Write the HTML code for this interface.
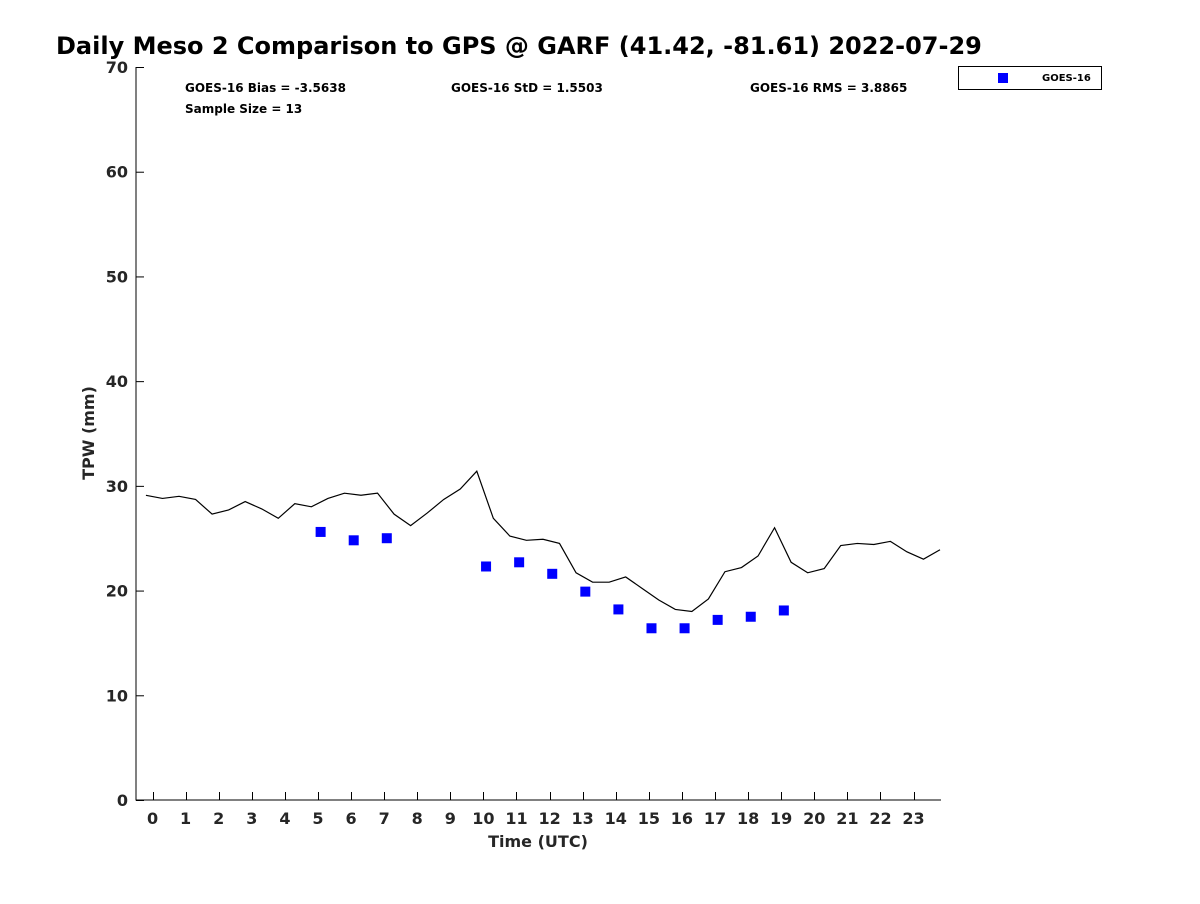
<!DOCTYPE html>
<html><head><meta charset="utf-8"><style>
body{margin:0;background:#fff;font-family:"DejaVu Sans","Liberation Sans",sans-serif}
svg text{font-family:"DejaVu Sans","Liberation Sans",sans-serif;fill:#262626;font-weight:bold}
</style></head><body>
<svg id="c" width="1200" height="900" xmlns="http://www.w3.org/2000/svg">
<text x="56" y="54" font-size="24" style="fill:#000">Daily Meso 2 Comparison to GPS @ GARF (41.42, -81.61) 2022-07-29</text>
<text x="185" y="92" font-size="12" style="fill:#000">GOES-16 Bias = -3.5638</text>
<text x="451" y="92" font-size="12" style="fill:#000">GOES-16 StD = 1.5503</text>
<text x="750" y="92" font-size="12" style="fill:#000">GOES-16 RMS = 3.8865</text>
<text x="185" y="113" font-size="12" style="fill:#000">Sample Size = 13</text>
<text x="538" y="847" font-size="16" text-anchor="middle">Time (UTC)</text>
<text transform="translate(94,433) rotate(-90)" font-size="16" text-anchor="middle">TPW (mm)</text>
<g>
<rect x="958.5" y="66.5" width="143" height="23" fill="#fff" stroke="#000"/>
<rect x="998" y="73" width="10" height="10" fill="#0000ff"/>
<text x="1042" y="81" font-size="10" style="fill:#000">GOES-16</text>
</g>
<g id="ax"></g>
</svg>
<script>
const xTicks=[0,1,2,3,4,5,6,7,8,9,10,11,12,13,14,15,16,17,18,19,20,21,22,23];
const yTicks=[0,10,20,30,40,50,60,70];
const gpsTimes=[-0.2,0.3,0.8,1.3,1.8,2.3,2.8,3.3,3.8,4.3,4.8,5.3,5.8,6.3,6.8,7.3,7.8,8.3,8.8,9.3,9.8,10.3,10.8,11.3,11.8,12.3,12.8,13.3,13.8,14.3,14.8,15.3,15.8,16.3,16.8,17.3,17.8,18.3,18.8,19.3,19.8,20.3,20.8,21.3,21.8,22.3,22.8,23.3,23.8];
const gpsTPW=[29.1,28.8,29.0,28.7,27.3,27.7,28.5,27.8,26.9,28.3,28.0,28.8,29.3,29.1,29.3,27.3,26.2,27.4,28.7,29.7,31.4,26.9,25.2,24.8,24.9,24.5,21.7,20.8,20.8,21.3,20.2,19.1,18.2,18.0,19.2,21.8,22.2,23.3,26.0,22.7,21.7,22.1,24.3,24.5,24.4,24.7,23.7,23.0,23.9];
const goesTimes=[5.08,6.08,7.08,10.08,11.08,12.08,13.08,14.08,15.08,16.08,17.08,18.08,19.08];
const goesTPW=[25.6,24.8,25.0,22.3,22.7,21.6,19.9,18.2,16.4,16.4,17.2,17.5,18.1];
const NS="http://www.w3.org/2000/svg";
const x0=136,x1=941,y0=800,y1=67,dMin=-0.5,dMax=23.83;
const X=v=>x0+(v-dMin)/(dMax-dMin)*(x1-x0);
const Y=v=>y0-(v/70)*(y0-y1);
const g=document.getElementById('ax');
function mk(t,a){const e=document.createElementNS(NS,t);for(const k in a)e.setAttribute(k,a[k]);g.appendChild(e);return e;}
const axl=mk('path',{d:`M${x0},${y1}H${x0}V${y0}H${x1}`,fill:'none',stroke:'#000'});


yTicks.forEach(v=>{
 const l=mk('line',{x1:x0,x2:x0+8,y1:Y(v)+.5,y2:Y(v)+.5,stroke:'#000'});
 
 
 const t=mk('text',{x:x0-8,y:Y(v)+6,'font-size':16,'text-anchor':'end'});t.textContent=v;
 
 
});
xTicks.forEach(v=>{
 const l=mk('line',{x1:Math.round(X(v))+.5,x2:Math.round(X(v))+.5,y1:y0,y2:y0-8,stroke:'#000'});
 
 
 const t=mk('text',{x:X(v),y:y0+24,'font-size':16,'text-anchor':'middle'});t.textContent=v;
 
 
});
const line=mk('polyline',{points:gpsTimes.map((t,i)=>X(t)+','+Y(gpsTPW[i])).join(' '),fill:'none',stroke:'#000','stroke-width':1.2});


goesTimes.forEach((t,i)=>{
 const r=mk('rect',{x:X(t)-5,y:Y(goesTPW[i])-5,width:10,height:10,fill:'#0000ff'});
 
 
});
</script>
</body></html>
